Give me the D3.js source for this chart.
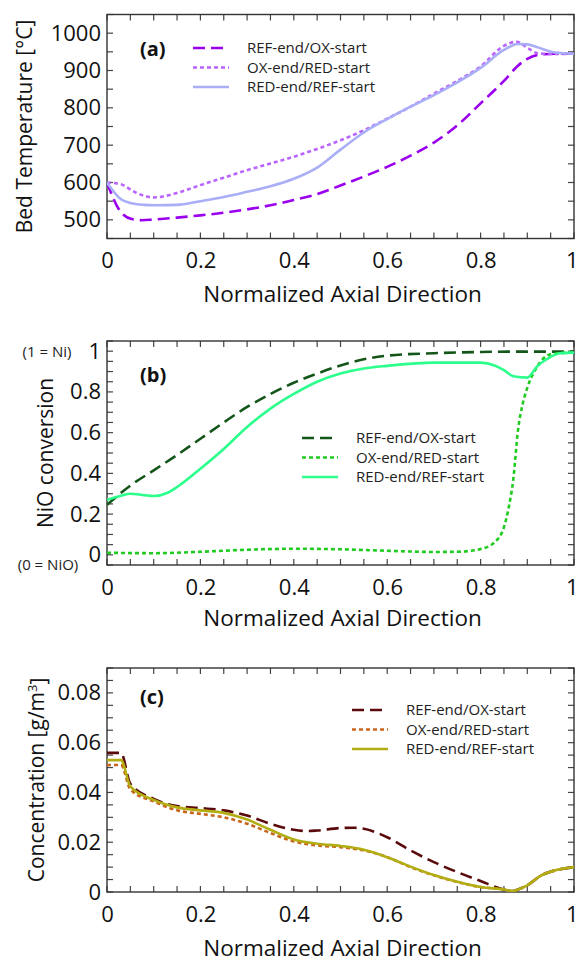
<!DOCTYPE html>
<html>
<head>
<meta charset="utf-8">
<script src="https://cdn.jsdelivr.net/npm/d3@7"></script>
<style>
  body { margin: 0; background: #fff; }
  svg { font-family: "Open Sans", sans-serif; }
</style>
</head>
<body>
<svg id="chart"></svg>
<script>
const width = 579;
const height = 965;

const seriesNames = ['REF-end/OX-start', 'OX-end/RED-start', 'RED-end/REF-start'];

// (a) bed temperature
const tempRef = [[0, 600], [0.026, 527], [0.053, 502], [0.075, 499], [0.1, 501], [0.15, 506], [0.2, 512], [0.25, 519], [0.3, 528], [0.35, 539], [0.4, 553], [0.45, 569], [0.5, 592], [0.55, 616], [0.6, 642], [0.65, 672], [0.7, 707], [0.75, 753], [0.8, 812], [0.85, 872], [0.88, 913], [0.9, 931], [0.93, 943], [0.96, 945], [1, 945]];
const tempOx = [[0, 600], [0.03, 595], [0.06, 574], [0.1, 560], [0.15, 572], [0.2, 593], [0.25, 613], [0.3, 633], [0.35, 651], [0.4, 669], [0.45, 690], [0.5, 713], [0.55, 740], [0.6, 771], [0.65, 803], [0.7, 838], [0.75, 872], [0.8, 911], [0.85, 966], [0.877, 977], [0.9, 961], [0.92, 947], [0.95, 944], [1, 945]];
const tempRed = [[0, 600], [0.03, 555], [0.05, 545], [0.08, 540], [0.1, 539], [0.15, 540], [0.2, 550], [0.25, 561], [0.3, 575], [0.35, 590], [0.4, 610], [0.45, 640], [0.5, 688], [0.55, 734], [0.6, 770], [0.65, 803], [0.7, 834], [0.75, 868], [0.8, 907], [0.85, 955], [0.88, 971], [0.9, 970], [0.92, 963], [0.96, 948], [1, 945]];

// (b) NiO conversion
const convRef = [[0, 0.246], [0.05, 0.34], [0.1, 0.415], [0.15, 0.49], [0.2, 0.57], [0.25, 0.65], [0.3, 0.726], [0.35, 0.79], [0.4, 0.845], [0.45, 0.89], [0.5, 0.93], [0.55, 0.96], [0.6, 0.978], [0.7, 0.99], [0.8, 0.996], [0.9, 0.998], [1, 0.998]];
const convOx = [[0, 0.01], [0.1, 0.008], [0.2, 0.015], [0.3, 0.025], [0.4, 0.03], [0.5, 0.027], [0.6, 0.02], [0.7, 0.014], [0.75, 0.015], [0.78, 0.02], [0.8, 0.028], [0.83, 0.062], [0.85, 0.136], [0.86, 0.23], [0.87, 0.37], [0.88, 0.61], [0.89, 0.74], [0.9, 0.82], [0.92, 0.92], [0.95, 0.985], [1, 0.995]];
const convRed = [[0, 0.27], [0.03, 0.29], [0.05, 0.3], [0.08, 0.293], [0.1, 0.289], [0.13, 0.305], [0.15, 0.333], [0.2, 0.423], [0.25, 0.52], [0.3, 0.628], [0.35, 0.718], [0.4, 0.79], [0.45, 0.85], [0.5, 0.89], [0.55, 0.915], [0.6, 0.928], [0.7, 0.944], [0.8, 0.944], [0.83, 0.93], [0.85, 0.907], [0.87, 0.877], [0.9, 0.87], [0.92, 0.923], [0.95, 0.972], [0.97, 0.99], [1, 0.993]];

// (c) concentration
const concRef = [[0, 0.0559], [0.03, 0.0559], [0.05, 0.0435], [0.1, 0.0374], [0.15, 0.0345], [0.2, 0.0337], [0.25, 0.0328], [0.3, 0.0307], [0.35, 0.0274], [0.4, 0.025], [0.43, 0.0245], [0.45, 0.0247], [0.5, 0.0257], [0.53, 0.0258], [0.55, 0.0254], [0.6, 0.022], [0.65, 0.0167], [0.7, 0.012], [0.75, 0.008], [0.8, 0.0044], [0.85, 0.001], [0.87, 0.0004], [0.88, 0.001], [0.9, 0.0027], [0.93, 0.0067], [0.96, 0.0087], [1, 0.01]];
const concOx = [[0, 0.051], [0.03, 0.051], [0.05, 0.0412], [0.1, 0.0364], [0.15, 0.0328], [0.2, 0.0314], [0.25, 0.03], [0.3, 0.0274], [0.35, 0.0237], [0.4, 0.0203], [0.45, 0.0187], [0.5, 0.018], [0.55, 0.0167], [0.6, 0.014], [0.65, 0.01], [0.7, 0.0067], [0.75, 0.004], [0.8, 0.002], [0.85, 0.001], [0.87, 0.0004], [0.88, 0.001], [0.9, 0.0027], [0.93, 0.0067], [0.96, 0.0087], [1, 0.01]];
const concRed = [[0, 0.053], [0.03, 0.053], [0.05, 0.0424], [0.1, 0.037], [0.15, 0.034], [0.2, 0.0328], [0.25, 0.0318], [0.3, 0.0291], [0.35, 0.025], [0.4, 0.0211], [0.45, 0.0194], [0.5, 0.0185], [0.55, 0.017], [0.6, 0.014], [0.65, 0.0102], [0.7, 0.0068], [0.75, 0.0041], [0.8, 0.002], [0.85, 0.001], [0.87, 0.0004], [0.88, 0.001], [0.9, 0.0027], [0.93, 0.0067], [0.96, 0.0087], [1, 0.01]];

const xTicks = [0, 0.2, 0.4, 0.6, 0.8, 1];
const tempTicks = [500, 600, 700, 800, 900, 1000];
const convTicks = [0, 0.2, 0.4, 0.6, 0.8, 1];
const concTicks = [0, 0.02, 0.04, 0.06, 0.08];

const dashes = ['12,6', '4,3', null];

const svg = d3.select('#chart')
  .attr('width', width)
  .attr('height', height);

const left = 107;
const right = 574;
const plotH = 224;

const xFmt = (d) => (d === 0 || d === 1 ? d3.format('d')(d) : d3.format('.1f')(d));

function drawPanel(cfg) {
  const top = cfg.top;
  const bottom = top + plotH;
  const x = d3.scaleLinear().domain([0, 1]).range([left, right]);
  const y = d3.scaleLinear().domain(cfg.yDomain).range([bottom, top]);
  const g = svg.append('g');

  const clipId = 'clip-' + cfg.label;
  g.append('clipPath').attr('id', clipId)
    .append('rect')
    .attr('x', left).attr('y', top)
    .attr('width', right - left).attr('height', plotH);

  // minor ticks, all four sides, pointing inward
  const xMinor = d3.range(0, 1.0001, 0.05);
  const yMinor = d3.range(cfg.yDomain[0], cfg.yDomain[1] + cfg.yStep / 2, cfg.yStep);
  const tick = g.append('g').attr('stroke', '#444').attr('stroke-width', 1.2);
  xMinor.forEach((v) => {
    tick.append('line').attr('x1', x(v)).attr('x2', x(v)).attr('y1', bottom).attr('y2', bottom - 6);
    tick.append('line').attr('x1', x(v)).attr('x2', x(v)).attr('y1', top).attr('y2', top + 6);
  });
  yMinor.forEach((v) => {
    tick.append('line').attr('x1', left).attr('x2', left + 6).attr('y1', y(v)).attr('y2', y(v));
    tick.append('line').attr('x1', right).attr('x2', right - 6).attr('y1', y(v)).attr('y2', y(v));
  });

  // frame
  g.append('rect')
    .attr('x', left).attr('y', top)
    .attr('width', right - left).attr('height', plotH)
    .attr('fill', 'none').attr('stroke', '#333').attr('stroke-width', 1.4);

  // tick labels via axes, with no lines of their own
  const xAxis = g.append('g')
    .attr('transform', `translate(0, ${bottom})`)
    .call(d3.axisBottom(x).tickValues(xTicks).tickFormat(xFmt).tickSize(0).tickPadding(14));
  const yAxis = g.append('g')
    .attr('transform', `translate(${left}, 0)`)
    .call(d3.axisLeft(y).tickValues(cfg.yTicks).tickFormat(cfg.yFmt).tickSize(0).tickPadding(6));
  [xAxis, yAxis].forEach((a) => {
    a.select('.domain').remove();
    a.selectAll('text').attr('font-size', 22).attr('fill', '#111').attr('font-family', '"Open Sans", sans-serif');
  });
  // keep the last label ("1") inside the page edge
  xAxis.selectAll('text').filter((d) => d === 1)
    .attr('text-anchor', 'end').attr('x', width - right - 1);

  // lines
  const line = d3.line()
    .x((d) => x(d[0]))
    .y((d) => y(d[1]))
    .curve(d3.curveMonotoneX);

  cfg.series.forEach((s, i) => {
    g.append('path')
      .datum(s)
      .attr('clip-path', `url(#${clipId})`)
      .attr('fill', 'none')
      .attr('stroke', cfg.colors[i])
      .attr('stroke-width', 2.6)
      .attr('stroke-dasharray', dashes[i])
      .attr('d', line);
  });

  // panel label
  g.append('text')
    .attr('x', 140).attr('y', top + cfg.labelDy)
    .attr('font-size', 20).attr('font-weight', 'bold').attr('fill', '#111')
    .text(`(${cfg.label})`);

  // legend
  const lg = g.append('g').attr('transform', `translate(${cfg.legendX}, ${cfg.legendY})`);
  seriesNames.forEach((name, i) => {
    const ly = i * 19.5;
    lg.append('line')
      .attr('x1', 0).attr('x2', 36).attr('y1', ly).attr('y2', ly)
      .attr('stroke', cfg.colors[i]).attr('stroke-width', 2.6)
      .attr('stroke-dasharray', dashes[i]);
    lg.append('text')
      .attr('x', 54).attr('y', ly).attr('dy', '0.35em')
      .attr('font-size', 15).attr('fill', '#222')
      .text(name);
  });

  // axis titles
  g.append('text')
    .attr('x', (left + right) / 2 + 2).attr('y', bottom + cfg.titleOffset)
    .attr('text-anchor', 'middle').attr('font-size', 22.5).attr('fill', '#111')
    .text('Normalized Axial Direction');

  const yt = g.append('text')
    .attr('transform', `translate(${cfg.yTitleX}, ${top + plotH / 2}) rotate(-90)`)
    .attr('text-anchor', 'middle').attr('dy', '0.35em')
    .attr('font-size', 21).attr('fill', '#111');
  cfg.yTitle(yt);

  return {x, y, g, top, bottom};
}

drawPanel({
  label: 'a', top: 14.5, yDomain: [450, 1050], yStep: 50, yTicks: tempTicks, yFmt: d3.format('d'),
  series: [tempRef, tempOx, tempRed], colors: ['#9b00ee', '#b964ff', '#a9aef7'],
  labelDy: 41, legendX: 193, legendY: 48, titleOffset: 63, yTitleX: 25,
  yTitle: (t) => t.text('Bed Temperature [°C]')
});

const pb = drawPanel({
  label: 'b', top: 341, yDomain: [-0.05, 1.05], yStep: 0.05, yTicks: convTicks,
  yFmt: (d) => (d === 0 || d === 1 ? d3.format('d')(d) : d3.format('.1f')(d)),
  series: [convRef, convOx, convRed], colors: ['#14561a', '#1fcc1f', '#2cff8c'],
  labelDy: 41, legendX: 302, legendY: 438, titleOffset: 61, yTitleX: 46,
  yTitle: (t) => t.text('NiO conversion')
});

pb.g.append('text').attr('x', 47).attr('y', pb.y(1) + 1).attr('dy', '0.35em')
  .attr('text-anchor', 'middle').attr('font-size', 15).attr('fill', '#222').text('(1 = Ni)');
pb.g.append('text').attr('x', 48).attr('y', pb.y(0) + 10).attr('dy', '0.35em')
  .attr('text-anchor', 'middle').attr('font-size', 15).attr('fill', '#222').text('(0 = NiO)');

drawPanel({
  label: 'c', top: 668, yDomain: [0, 0.09], yStep: 0.005, yTicks: concTicks,
  yFmt: (d) => (d === 0 ? '0' : d3.format('.2f')(d)),
  series: [concRef, concOx, concRed], colors: ['#5a0a0a', '#c8661c', '#b1ad12'],
  labelDy: 36, legendX: 352, legendY: 710, titleOffset: 64, yTitleX: 37,
  yTitle: (t) => {
    t.append('tspan').text('Concentration [g/m');
    t.append('tspan').attr('font-size', 13).attr('dy', '-0.6em').text('3');
    t.append('tspan').attr('dy', '0.45em').text(']');
  }
});
</script>
</body>
</html>
